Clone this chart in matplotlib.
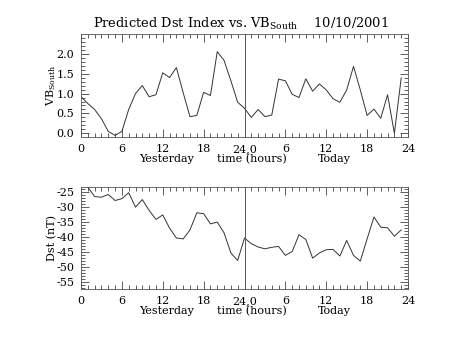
import matplotlib
matplotlib.use("Agg")
import matplotlib.pyplot as plt
from matplotlib.ticker import MultipleLocator, FixedLocator

plt.rcParams.update({
    "font.family": "DejaVu Serif",
    "mathtext.fontset": "dejavuserif",
    "axes.unicode_minus": False,
    "font.size": 8,
})

# hours since start of yesterday (0..47)
hours = list(range(48))

vb_south = [0.92, 0.75, 0.60, 0.37, 0.05, -0.05, 0.05, 0.60, 1.00, 1.20,
            0.92, 0.97, 1.52, 1.40, 1.65, 1.02, 0.42, 0.45, 1.03, 0.95,
            2.05, 1.83, 1.32, 0.78, 0.63, 0.40, 0.60, 0.42, 0.46, 1.36,
            1.32, 0.98, 0.90, 1.37, 1.06, 1.24, 1.09, 0.87, 0.78, 1.09,
            1.68, 1.09, 0.45, 0.61, 0.38, 0.97, 0.00, 1.39]

dst = [-21.5, -23.3, -26.5, -26.7, -25.8, -27.8, -27.2, -25.2, -30.0, -27.5,
       -31.1, -34.1, -32.6, -37.0, -40.3, -40.6, -37.6, -31.9, -32.2, -35.6,
       -35.0, -38.6, -45.3, -47.8, -40.3, -42.2, -43.3, -43.9, -43.4, -43.1,
       -46.1, -44.8, -39.2, -40.8, -47.0, -45.3, -44.2, -44.1, -46.3, -41.1,
       -46.1, -48.0, -40.6, -33.3, -36.7, -36.9, -39.7, -37.6]

xticks = [0, 6, 12, 18, 24, 30, 36, 42, 48]
xticklabels = ["0", "6", "12", "18", "24,0", "6", "12", "18", "24"]
vb_ticks = [0.0, 0.5, 1.0, 1.5, 2.0]
dst_ticks = [-25, -30, -35, -40, -45, -50, -55]

W, H = 454, 341
fig = plt.figure(figsize=(W / 100, H / 100), dpi=100)


def frac(left, top, right, bottom):
    return [left / W, 1 - bottom / H, (right - left) / W, (bottom - top) / H]


def style(ax, ylim, yticks, ymin, yfmt):
    ax.set_xlim(0, 48)
    ax.set_ylim(*ylim)
    ax.set_xticks(xticks)
    ax.set_xticklabels(xticklabels)
    ax.xaxis.set_minor_locator(MultipleLocator(1))
    ax.yaxis.set_major_locator(FixedLocator(yticks))
    ax.yaxis.set_minor_locator(MultipleLocator(ymin))
    ax.yaxis.set_major_formatter(yfmt)
    ax.tick_params(which="both", direction="in", top=True, right=True,
                   width=0.6, color="#444444", labelsize=8, pad=5)
    ax.tick_params(which="major", length=5.5)
    ax.tick_params(which="minor", length=2.8)
    for s in ax.spines.values():
        s.set_linewidth(0.6)
        s.set_color("#555555")
    ax.axvline(24, color="#555555", linewidth=0.7)
    tr = ax.get_xaxis_transform()
    ax.text(12.5, -0.17, "Yesterday", transform=tr, ha="center", va="top")
    ax.text(25.1, -0.17, "time (hours)", transform=tr, ha="center", va="top")
    ax.text(37.2, -0.17, "Today", transform=tr, ha="center", va="top")


ax1 = fig.add_axes(frac(81, 34.5, 408, 137))
ax1.plot(hours, vb_south, color="#333333", linewidth=0.7)
style(ax1, (-0.09, 2.48), vb_ticks, 0.1, "{x:.1f}")
ax1.set_ylabel(r"VB$_{\mathrm{South}}$", labelpad=-1)
fig.text(241 / W, 1 - 24 / H,
         r"Predicted Dst Index vs. VB$_{\mathrm{South}}$    10/10/2001",
         ha="center", va="center", fontsize=9.4)

ax2 = fig.add_axes(frac(81, 187.3, 408, 289))
ax2.plot(hours, dst, color="#333333", linewidth=0.7)
style(ax2, (-57.3, -23.4), dst_ticks, 1, "{x:.0f}")
ax2.set_ylabel("Dst (nT)", labelpad=-1)

fig.savefig("out.png", dpi=100, facecolor="white")
